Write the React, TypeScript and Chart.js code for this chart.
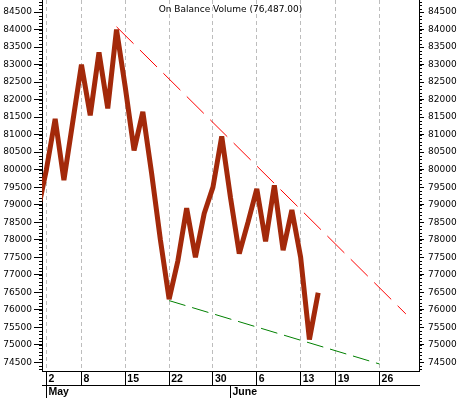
import React, { useEffect, useRef } from 'react';
import { Chart, registerables } from 'chart.js';

Chart.register(...registerables);

// Trading days shown on the x axis (May 1 sits just left of the visible range)
const dates = [
  'May 1', 'May 2', 'May 3', 'May 4', 'May 5', 'May 8', 'May 9', 'May 10', 'May 11', 'May 12',
  'May 15', 'May 16', 'May 17', 'May 18', 'May 19', 'May 22', 'May 23', 'May 24', 'May 25', 'May 26',
  'May 30', 'May 31', 'Jun 1', 'Jun 2', 'Jun 5', 'Jun 6', 'Jun 7', 'Jun 8', 'Jun 9', 'Jun 12',
  'Jun 13', 'Jun 14', 'Jun 15', 'Jun 16', 'Jun 19', 'Jun 20', 'Jun 21', 'Jun 22', 'Jun 23', 'Jun 26',
  'Jun 27', 'Jun 28', 'Jun 29', 'Jun 30',
];

// On Balance Volume, one value per trading day from May 1
const obvValues = [
  78800, 80000, 81450, 79700, 81350, 83000, 81550, 83350, 81750, 84000,
  82350, 80550, 81650, 79900, 78000, 76300, 77400, 78900, 77500, 78750,
  79500, 80950, 79200, 77600, 78500, 79450, 77950, 79550, 77700, 78850,
  77500, 75150, 76487,
];

// Trend lines (two end points each)
const resistanceDates = ['May 12', 'Jun 29'];
const resistanceValues = [84080, 75880];
const supportDates = ['May 22', 'Jun 26'];
const supportValues = [76260, 74450];

const dayTickDates = ['May 2', 'May 8', 'May 15', 'May 22', 'May 30', 'Jun 6', 'Jun 13', 'Jun 19', 'Jun 26'];
const monthTickDates = ['May 2', 'Jun 1'];
const monthLabels = ['May', 'June'];
const yTickValues = [
  74500, 75000, 75500, 76000, 76500, 77000, 77500, 78000, 78500, 79000, 79500,
  80000, 80500, 81000, 81500, 82000, 82500, 83000, 83500, 84000, 84500,
];
const titleText = 'On Balance Volume (76,487.00)';

const Y_MIN = 74250;
const Y_MAX = 84845;
const X_MIN = 0.5;
const X_MAX = dates.length - 0.5;

const idx = (d: string) => dates.indexOf(d);

const titlePlugin = {
  id: 'insideTitle',
  afterDraw(chart: any) {
    const { ctx, chartArea } = chart;
    ctx.save();
    ctx.font = '9px "DejaVu Sans"';
    ctx.fillStyle = '#000';
    ctx.textAlign = 'center';
    ctx.textBaseline = 'alphabetic';
    ctx.fillText(titleText, (chartArea.left + chartArea.right) / 2, chartArea.top + 12);
    ctx.restore();
  },
};

const minorTickPlugin = {
  id: 'minorTicks',
  afterDraw(chart: any) {
    const { ctx } = chart;
    const yl = chart.scales.y;
    const yr = chart.scales.yR;
    ctx.save();
    ctx.strokeStyle = '#000';
    ctx.lineWidth = 1;
    ctx.beginPath();
    for (let v = Math.ceil(yl.min / 100) * 100; v <= yl.max; v += 100) {
      const py = Math.round(yl.getPixelForValue(v)) + 0.5;
      ctx.moveTo(yl.right - 3, py);
      ctx.lineTo(yl.right, py);
      ctx.moveTo(yr.left, py);
      ctx.lineTo(yr.left + 3, py);
    }
    ctx.stroke();
    ctx.restore();
  },
};

export default function App() {
  const canvasRef = useRef<HTMLCanvasElement | null>(null);

  useEffect(() => {
    if (!canvasRef.current) return;
    const yTickFont = { family: '"DejaVu Sans"', size: 9 };
    const xTickFont = { family: '"Liberation Sans"', size: 10.5, weight: 'bold' as const };

    const chart = new Chart(canvasRef.current, {
      type: 'line',
      data: {
        datasets: [
          {
            label: 'OBV',
            data: obvValues.map((v, i) => ({ x: i, y: v })),
            borderColor: '#A3290A',
            borderWidth: 5,
            borderJoinStyle: 'bevel',
            pointRadius: 0,
            tension: 0,
            clip: 0,
            xAxisID: 'x',
            yAxisID: 'y',
          },
          {
            label: 'Resistance',
            data: resistanceDates.map((d, i) => ({ x: idx(d), y: resistanceValues[i] })),
            borderColor: '#FF0000',
            borderWidth: 1,
            borderDash: [24, 9],
            pointRadius: 0,
            clip: 0,
            xAxisID: 'x',
            yAxisID: 'y',
          },
          {
            label: 'Support',
            data: supportDates.map((d, i) => ({ x: idx(d), y: supportValues[i] })),
            borderColor: '#008000',
            borderWidth: 1,
            borderDash: [17, 7],
            pointRadius: 0,
            clip: 0,
            xAxisID: 'x',
            yAxisID: 'y',
          },
        ],
      },
      options: {
        animation: false,
        responsive: false,
        events: [],
        layout: { padding: 0 },
        plugins: { legend: { display: false }, tooltip: { enabled: false }, title: { display: false } },
        scales: {
          x: {
            type: 'linear',
            position: 'bottom',
            weight: 0,
            min: X_MIN,
            max: X_MAX,
            afterBuildTicks: (s: any) => {
              s.ticks = dayTickDates.map((d) => ({ value: idx(d) }));
            },
            afterFit: (s: any) => {
              s.height = 14;
              s.paddingLeft = 0;
              s.paddingRight = 0;
            },
            grid: {
              color: '#BDBDBD',
              drawOnChartArea: true,
              drawTicks: true,
              tickLength: 14,
              tickColor: '#000',
              tickBorderDash: [],
            },
            border: { display: true, color: '#000', width: 1, dash: [4, 3] },
            ticks: {
              autoSkip: false,
              maxRotation: 0,
              minRotation: 0,
              align: 'start',
              labelOffset: 2,
              padding: -12,
              color: '#000',
              font: xTickFont,
              callback: (v: any) => dates[v].split(' ')[1],
            },
          },
          xMonth: {
            type: 'linear',
            position: 'bottom',
            weight: 1,
            min: X_MIN,
            max: X_MAX,
            afterBuildTicks: (s: any) => {
              s.ticks = monthTickDates.map((d) => ({ value: idx(d) }));
            },
            afterFit: (s: any) => {
              s.height = 13;
              s.paddingLeft = 0;
              s.paddingRight = 0;
            },
            grid: {
              drawOnChartArea: false,
              drawTicks: true,
              tickLength: 13,
              tickColor: '#000',
            },
            border: { display: true, color: '#000', width: 1 },
            ticks: {
              autoSkip: false,
              maxRotation: 0,
              minRotation: 0,
              align: 'start',
              labelOffset: 2,
              padding: -12,
              color: '#000',
              font: xTickFont,
              callback: (v: any) => monthLabels[monthTickDates.indexOf(dates[v])],
            },
          },
          y: {
            type: 'linear',
            position: 'left',
            min: Y_MIN,
            max: Y_MAX,
            afterBuildTicks: (s: any) => {
              s.ticks = yTickValues.map((v) => ({ value: v }));
            },
            afterFit: (s: any) => {
              s.width = 42;
              s.paddingTop = 0;
              s.paddingBottom = 0;
            },
            grid: { drawOnChartArea: false, drawTicks: true, tickLength: 8, tickColor: '#000' },
            border: { display: true, color: '#000', width: 1 },
            ticks: {
              autoSkip: false,
              padding: 2,
              color: '#000',
              font: yTickFont,
              callback: (v: any) => String(v),
            },
          },
          yR: {
            type: 'linear',
            position: 'right',
            min: Y_MIN,
            max: Y_MAX,
            afterBuildTicks: (s: any) => {
              s.ticks = yTickValues.map((v) => ({ value: v }));
            },
            afterFit: (s: any) => {
              s.width = 41;
              s.paddingTop = 0;
              s.paddingBottom = 0;
            },
            grid: { drawOnChartArea: false, drawTicks: true, tickLength: 5, tickColor: '#000' },
            border: { display: true, color: '#000', width: 1 },
            ticks: {
              autoSkip: false,
              padding: 4,
              color: '#000',
              font: yTickFont,
              callback: (v: any) => String(v),
            },
          },
        },
      } as any,
      plugins: [titlePlugin, minorTickPlugin],
    });
    return () => chart.destroy();
  }, []);

  return (
    <div style={{ position: 'absolute', left: 0, top: 0, width: 460, height: 398, background: '#fff' }}>
      <canvas ref={canvasRef} width={460} height={398} style={{ display: 'block' }} />
    </div>
  );
}
